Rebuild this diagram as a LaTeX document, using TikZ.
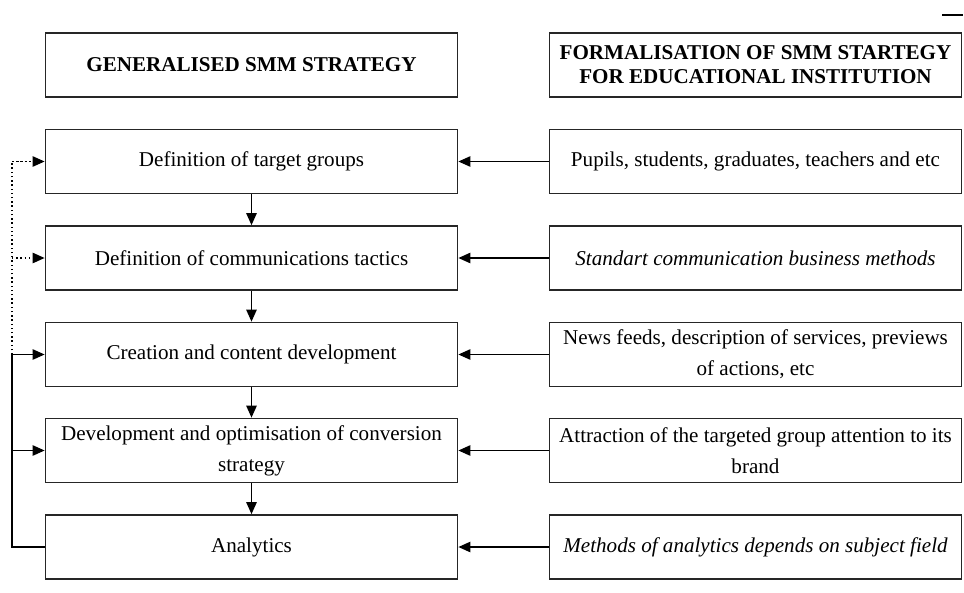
\documentclass[tikz,border=0pt]{standalone}
\usepackage{fontspec}
\setmainfont{Liberation Serif}
\usetikzlibrary{arrows.meta}

\tikzset{
	stepbox/.style={draw=black!85, line width=1.2pt, minimum width=10.3cm, minimum height=1.6cm, align=center, inner sep=0pt, font=\fontsize{15}{18}\selectfont},
	headbox/.style={stepbox, font=\fontsize{15}{17}\selectfont\bfseries},
	link/.style={line width=1pt, -{Triangle[length=3mm, width=2.6mm]}},
	loop/.style={line width=1pt, dotted}
}

\begin{document}
\begin{tikzpicture}[x=0.025cm, y=-0.025cm]
		%%%%% START %%%%%
		\useasboundingbox (0, 0) rectangle (964, 592);
		
		\draw[line width=1.2pt] (942, 15) -- (963, 15);
		
		\node[headbox] (gen) at (251.5, 65) {GENERALISED SMM STRATEGY};
		\node[headbox] (form) at (755.5, 65) {FORMALISATION OF SMM STARTEGY\\FOR EDUCATIONAL INSTITUTION};
		
		\node[stepbox] (groups) at (251.5, 161.5) {Definition of target groups};
		\node[stepbox] (tactics) at (251.5, 258) {Definition of communications tactics};
		\node[stepbox] (content) at (251.5, 354.5) {Creation and content development};
		\node[stepbox] (convert) at (251.5, 450.5) {Development and optimisation of conversion\\[4pt]strategy};
		\node[stepbox] (analytics) at (251.5, 547) {Analytics};
		
		\node[stepbox] (pupils) at (755.5, 161.5) {Pupils, students, graduates, teachers and etc};
		\node[stepbox] (methods) at (755.5, 258) {\itshape Standart communication business methods};
		\node[stepbox] (news) at (755.5, 354.5) {News feeds, description of services, previews\\[4pt]of actions, etc};
		\node[stepbox] (brand) at (755.5, 450.5) {Attraction of the targeted group attention to its\\[4pt]brand};
		\node[stepbox] (subject) at (755.5, 547) {\itshape Methods of analytics depends on subject field};
		
		\draw[link] (groups) -- (tactics);
		\draw[link] (tactics) -- (content);
		\draw[link] (content) -- (convert);
		\draw[link] (convert) -- (analytics);
		
		\draw[link] (pupils) -- (groups);
		\draw[link] (methods) -- (tactics);
		\draw[link] (news) -- (content);
		\draw[link] (brand) -- (convert);
		\draw[link] (subject) -- (analytics);
		
		\coordinate (back) at (12, 547);
		\coordinate (back3) at (12, 354.5);
		\draw[line width=1pt] (analytics.west) -- (back) -- (back3);
		\draw[loop] (back3) |- (groups.west);
		\draw[link] (back3) -- (content.west);
		\draw[link] (back |- convert.west) -- (convert.west);
		\draw[link, dotted] (back |- tactics.west) -- (tactics.west);
		\draw[link, dotted] (back |- groups.west) -- (groups.west);
		
		%%%%% END %%%%%
	\end{tikzpicture}
\end{document}
